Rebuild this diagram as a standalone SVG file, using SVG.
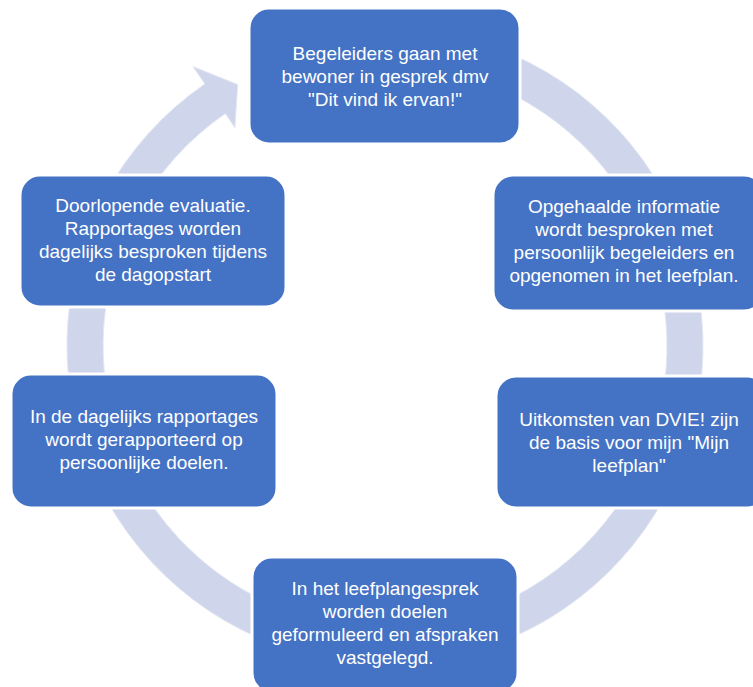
<svg xmlns="http://www.w3.org/2000/svg" width="753" height="687" viewBox="0 0 753 687">
<style>
.box{fill:#4472C4;stroke:#FFFFFF;stroke-width:3}
.ring{fill:#CFD5EA;stroke:#E3E7F3;stroke-width:1}
text{font-family:"Liberation Sans",Arial,sans-serif;font-size:19px;fill:#FFFFFF;text-anchor:middle}
</style>
<rect width="753" height="687" fill="#FFFFFF"/>
<g id="connectors">
<path class="ring" d="M385,28 A318,318 0 1 1 204.9,83.9 L193,66.6 L237.7,84.6 L234.9,127.6 L225.3,113.6 A282,282 0 1 0 385,64 Z"/>
</g>
<g id="node1">
<rect class="box" x="249" y="8" width="271" height="136" rx="20"/>
<text x="385" y="60">Begeleiders gaan met</text>
<text x="385" y="83">bewoner in gesprek dmv</text>
<text x="385" y="106">"Dit vind ik ervan!"</text>
</g>
<g id="node2">
<rect class="box" x="493" y="175" width="271" height="136" rx="20"/>
<text x="624" y="213">Opgehaalde informatie</text>
<text x="624" y="236">wordt besproken met</text>
<text x="624" y="259">persoonlijk begeleiders en</text>
<text x="624" y="282">opgenomen in het leefplan.</text>
</g>
<g id="node3">
<rect class="box" x="496" y="376" width="271" height="132" rx="20"/>
<text x="629" y="426">Uitkomsten van DVIE! zijn</text>
<text x="629" y="449">de basis voor mijn "Mijn</text>
<text x="629" y="472">leefplan"</text>
</g>
<g id="node4">
<rect class="box" x="252" y="557" width="266" height="136" rx="20"/>
<text x="385" y="595">In het leefplangesprek</text>
<text x="385" y="618">worden doelen</text>
<text x="385" y="641">geformuleerd en afspraken</text>
<text x="385" y="664">vastgelegd.</text>
</g>
<g id="node5">
<rect class="box" x="11" y="374" width="266" height="134" rx="20"/>
<text x="144" y="423">In de dagelijks rapportages</text>
<text x="144" y="446">wordt gerapporteerd op</text>
<text x="144" y="469">persoonlijke doelen.</text>
</g>
<g id="node6">
<rect class="box" x="20" y="175" width="266" height="132" rx="20"/>
<text x="153" y="212">Doorlopende evaluatie.</text>
<text x="153" y="235">Rapportages worden</text>
<text x="153" y="258">dagelijks besproken tijdens</text>
<text x="153" y="281">de dagopstart</text>
</g>
</svg>
